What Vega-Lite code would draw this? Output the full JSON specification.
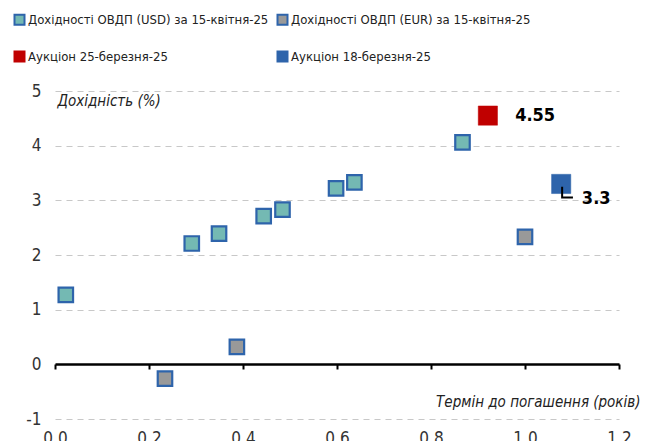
{
  "$schema": "https://vega.github.io/schema/vega-lite/v6.json",
  "width": 564,
  "height": 328,
  "autosize": "none",
  "padding": {"left": 55, "top": 91, "right": 34, "bottom": 22},
  "background": "white",
  "config": {
    "font": "Liberation Sans Narrow, DejaVu Sans Condensed, Liberation Sans, sans-serif",
    "view": {"stroke": null}
  },
  "datasets": {
    "points": [
      {"series": "Дохідності ОВДП (USD) за 15-квітня-25", "term": 0.023, "yield": 1.27},
      {"series": "Дохідності ОВДП (USD) за 15-квітня-25", "term": 0.291, "yield": 2.21},
      {"series": "Дохідності ОВДП (USD) за 15-квітня-25", "term": 0.349, "yield": 2.39},
      {"series": "Дохідності ОВДП (USD) за 15-квітня-25", "term": 0.444, "yield": 2.71},
      {"series": "Дохідності ОВДП (USD) за 15-квітня-25", "term": 0.484, "yield": 2.83},
      {"series": "Дохідності ОВДП (USD) за 15-квітня-25", "term": 0.598, "yield": 3.22},
      {"series": "Дохідності ОВДП (USD) за 15-квітня-25", "term": 0.637, "yield": 3.33},
      {"series": "Дохідності ОВДП (USD) за 15-квітня-25", "term": 0.867, "yield": 4.06},
      {"series": "Дохідності ОВДП (EUR) за 15-квітня-25", "term": 0.234, "yield": -0.26},
      {"series": "Дохідності ОВДП (EUR) за 15-квітня-25", "term": 0.387, "yield": 0.32},
      {"series": "Дохідності ОВДП (EUR) за 15-квітня-25", "term": 1.0, "yield": 2.33},
      {"series": "Аукціон 25-березня-25", "term": 0.921, "yield": 4.55},
      {"series": "Аукціон 18-березня-25", "term": 1.077, "yield": 3.3}
    ],
    "labels": [
      {"term": 0.979, "yield": 4.54, "label": "4.55"},
      {"term": 1.121, "yield": 3.03, "label": "3.3"}
    ],
    "leader": [
      {"term": 1.079, "yield": 3.25, "order": 1},
      {"term": 1.079, "yield": 3.05, "order": 2},
      {"term": 1.102, "yield": 3.05, "order": 3}
    ]
  },
  "layer": [
    {
      "data": {"name": "points"},
      "transform": [{"filter": "indexof(datum.series, 'Аукціон') < 0"}],
      "mark": {"type": "point", "shape": "square", "filled": true, "opacity": 1, "size": 210, "strokeWidth": 2.2},
      "encoding": {
        "x": {
          "field": "term", "type": "quantitative",
          "scale": {"domain": [0, 1.2], "nice": false, "zero": false},
          "axis": {
            "values": [0, 0.2, 0.4, 0.6, 0.8, 1.0, 1.2],
            "format": ".1f",
            "offset": -55,
            "domain": true, "domainColor": "#000000", "domainWidth": 2.5,
            "ticks": true, "tickColor": "#000000", "tickWidth": 2, "tickSize": 5,
            "labelPadding": 61, "labelFontSize": 17, "labelColor": "#333333",
            "labelBaseline": "top", "labelFlush": false,
            "grid": false,
            "title": "Термін до погашення (років)",
            "titleFontStyle": "italic", "titleFontWeight": "normal", "titleFontSize": 15,
            "titleColor": "#222222",
            "titleAnchor": "end", "titleAlign": "right", "titleBaseline": "middle",
            "titleX": 585, "titleY": 37
          }
        },
        "y": {
          "field": "yield", "type": "quantitative",
          "scale": {"domain": [-1, 5], "nice": false, "zero": false},
          "axis": {
            "values": [-1, 0, 1, 2, 3, 4, 5],
            "labelExpr": "toString(datum.value)",
            "domain": false, "ticks": false,
            "labelPadding": 14, "labelFontSize": 17, "labelColor": "#333333",
            "grid": true, "gridColor": "#c8c8c8", "gridDash": [6, 5], "gridWidth": 1.2,
            "title": "Дохідність (%)",
            "titleAngle": 0, "titleFontStyle": "italic", "titleFontWeight": "normal", "titleFontSize": 15,
            "titleColor": "#222222",
            "titleAlign": "left", "titleBaseline": "middle", "titleX": 2, "titleY": 9
          }
        },
        "fill": {
          "field": "series", "type": "nominal",
          "scale": {
            "domain": ["Дохідності ОВДП (USD) за 15-квітня-25", "Дохідності ОВДП (EUR) за 15-квітня-25", "Аукціон 25-березня-25", "Аукціон 18-березня-25"],
            "range": ["#74b9b3", "#999999", "#c00000", "#2e64ab"]
          },
          "legend": {
            "orient": "none", "legendX": -42, "legendY": -78,
            "direction": "horizontal", "columns": 2, "columnPadding": 4, "rowPadding": 18,
            "title": null, "symbolType": "square", "symbolSize": 100, "symbolStrokeWidth": 2,
            "labelFontSize": 13, "labelColor": "#222222", "labelOffset": 2, "labelLimit": 400
          }
        },
        "stroke": {
          "field": "series", "type": "nominal",
          "scale": {
            "domain": ["Дохідності ОВДП (USD) за 15-квітня-25", "Дохідності ОВДП (EUR) за 15-квітня-25", "Аукціон 25-березня-25", "Аукціон 18-березня-25"],
            "range": ["#2e64ab", "#2e64ab", "#c00000", "#2e64ab"]
          },
          "legend": {
            "orient": "none", "legendX": -42, "legendY": -78,
            "direction": "horizontal", "columns": 2, "columnPadding": 4, "rowPadding": 18,
            "title": null, "symbolType": "square", "symbolSize": 100, "symbolStrokeWidth": 2,
            "labelFontSize": 13, "labelColor": "#222222", "labelOffset": 2, "labelLimit": 400
          }
        }
      }
    },
    {
      "data": {"name": "points"},
      "transform": [{"filter": "indexof(datum.series, 'Аукціон') >= 0"}],
      "mark": {"type": "point", "shape": "square", "filled": true, "opacity": 1, "size": 370, "strokeWidth": 0.5},
      "encoding": {
        "x": {"field": "term", "type": "quantitative"},
        "y": {"field": "yield", "type": "quantitative"},
        "fill": {"field": "series", "type": "nominal"},
        "stroke": {"field": "series", "type": "nominal"}
      }
    },
    {
      "data": {"name": "leader"},
      "mark": {"type": "line", "color": "#000000", "strokeWidth": 2},
      "encoding": {
        "x": {"field": "term", "type": "quantitative"},
        "y": {"field": "yield", "type": "quantitative"},
        "order": {"field": "order"}
      }
    },
    {
      "data": {"name": "labels"},
      "mark": {"type": "text", "align": "left", "baseline": "middle", "fontSize": 18, "fontWeight": "bold", "color": "#000000"},
      "encoding": {
        "x": {"field": "term", "type": "quantitative"},
        "y": {"field": "yield", "type": "quantitative"},
        "text": {"field": "label"}
      }
    }
  ]
}
